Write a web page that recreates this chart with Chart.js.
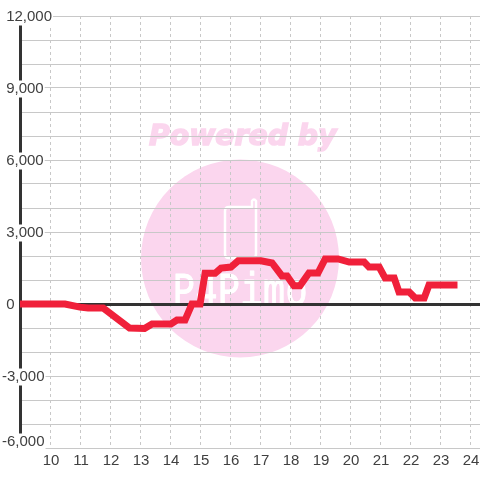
<!DOCTYPE html>
<html>
<head>
<meta charset="utf-8">
<script src="https://cdn.jsdelivr.net/npm/chart.js@4"></script>
<style>
    html, body { margin: 0; padding: 0; background: #fff; }
    #box { width: 480px; height: 480px; }
</style>
</head>
<body>
<div id="box"><canvas id="lineChart" width="480" height="480"></canvas></div>
<script>
// 시간 축 (시)
const hours = [9, 10.5, 11, 11.27, 11.77, 12.65, 13.15, 13.4, 14.03, 14.23, 14.5, 14.73, 15.0, 15.17, 15.5, 15.7, 16.03, 16.27, 17.03, 17.4, 17.73, 17.9, 18.13, 18.33, 18.63, 18.93, 19.17, 19.6, 19.97, 20.47, 20.63, 20.97, 21.17, 21.47, 21.63, 21.97, 22.17, 22.47, 22.63, 23.58];
// 값
const values = [0, 0, -130, -170, -170, -1000, -1020, -830, -830, -670, -670, 0, 0, 1280, 1280, 1500, 1540, 1800, 1800, 1710, 1170, 1170, 760, 760, 1290, 1290, 1880, 1880, 1750, 1750, 1540, 1540, 1080, 1080, 500, 500, 250, 250, 790, 790];

const xTicks = [10, 11, 12, 13, 14, 15, 16, 17, 18, 19, 20, 21, 22, 23, 24];
const yLabelTicks = [12000, 9000, 6000, 3000, 0, -3000, -6000];

// 배경 워터마크
const watermark = {
    id: 'watermark',
    beforeDraw(chart) {
        const c = chart.ctx;
        c.save();
        c.fillStyle = '#fbd6ee';
        c.beginPath();
        c.arc(240, 258.5, 99, 0, Math.PI * 2);
        c.fill();

        c.font = 'italic bold 28.3px "DejaVu Sans"';
        c.textAlign = 'left';
        c.textBaseline = 'alphabetic';
        c.lineWidth = 1.5;
        c.strokeStyle = '#fbd6ee';
        c.fillText('Powered by', 149, 145);
        c.strokeText('Powered by', 149, 145);

        // 휴대폰 아이콘
        c.strokeStyle = '#fff';
        c.lineWidth = 2.5;
        c.lineJoin = 'round';
        c.beginPath();
        c.moveTo(252, 207);
        c.lineTo(229, 207);
        c.quadraticCurveTo(225, 207, 225, 211);
        c.lineTo(225, 254);
        c.quadraticCurveTo(225, 258, 229, 258);
        c.lineTo(252, 258);
        c.quadraticCurveTo(256, 258, 256, 254);
        c.lineTo(256, 201);
        c.quadraticCurveTo(254, 198, 252, 201);
        c.closePath();
        c.stroke();

        // 로고 글자
        c.fillStyle = '#fff';
        c.lineWidth = 1;
        c.font = '46px "Liberation Mono"';
        const letters = 'P4Pimo';
        for (let i = 0; i < letters.length; i++) {
            c.save();
            c.translate(173 + i * 22.5, 305);
            c.scale(0.8, 1);
            c.fillText(letters[i], 0, 0);
            c.strokeText(letters[i], 0, 0);
            c.restore();
        }
        c.restore();
    }
};

// y축 라벨 위치 보정 (맨 아래 라벨은 위로 올림)
const yLabelShift = {
    id: 'yLabelShift',
    beforeDraw(chart) {
        chart.scales.y.getLabelItems().forEach(item => {
            const shift = item.label === '-6,000' ? -6 : 1;
            item.textOffset += shift;
            if (item.options.backdrop) item.options.backdrop.top += shift;
        });
    }
};

new Chart(document.getElementById('lineChart'), {
    type: 'line',
    data: {
        datasets: [{
            data: hours.map((h, i) => ({ x: h, y: values[i] })),
            borderColor: '#f0203a',
            borderWidth: 7,
            pointRadius: 0,
            tension: 0,
            fill: false
        }]
    },
    options: {
        responsive: false,
        animation: false,
        layout: { padding: { left: 20, top: 16, right: 0, bottom: 0 } },
        plugins: { legend: { display: false }, tooltip: { enabled: false } },
        scales: {
            x: {
                type: 'linear',
                min: 9,
                max: 24.33,
                afterFit(scale) { scale.height = 32; },
                border: { display: false, dash: [3, 3] },
                grid: {
                    color: ctx => xTicks.includes(ctx.tick.value) ? '#c8c8c8' : 'rgba(0,0,0,0)',
                    lineWidth: 1,
                    drawTicks: false
                },
                ticks: {
                    stepSize: 1,
                    includeBounds: false,
                    autoSkip: false,
                    maxRotation: 0,
                    padding: 0,
                    labelOffset: 1,
                    color: '#404040',
                    font: { family: '"Liberation Sans"', size: 15, lineHeight: 1.73 },
                    callback: v => xTicks.includes(v) ? String(v) : ''
                }
            },
            y: {
                min: -6000,
                max: 12000,
                afterFit(scale) { scale.width = 0; },
                border: { display: true, color: '#333333', width: 3 },
                grid: {
                    color: ctx => ctx.tick.value === 0 ? '#333333' : '#c8c8c8',
                    lineWidth: ctx => ctx.tick.value === 0 ? 3 : 1,
                    drawTicks: false
                },
                ticks: {
                    stepSize: 1000,
                    autoSkip: false,
                    mirror: true,
                    crossAlign: 'near',
                    padding: -18,
                    color: '#404040',
                    font: { family: '"Liberation Sans"', size: 15, lineHeight: 1 },
                    showLabelBackdrop: true,
                    backdropColor: '#ffffff',
                    backdropPadding: 1,
                    callback: v => {
                        if (!yLabelTicks.includes(v)) return '';
                        const text = v.toLocaleString('en-US');
                        return v < 0 ? text : ' ' + text;
                    }
                }
            }
        }
    },
    plugins: [watermark, yLabelShift]
});
</script>
</body>
</html>
